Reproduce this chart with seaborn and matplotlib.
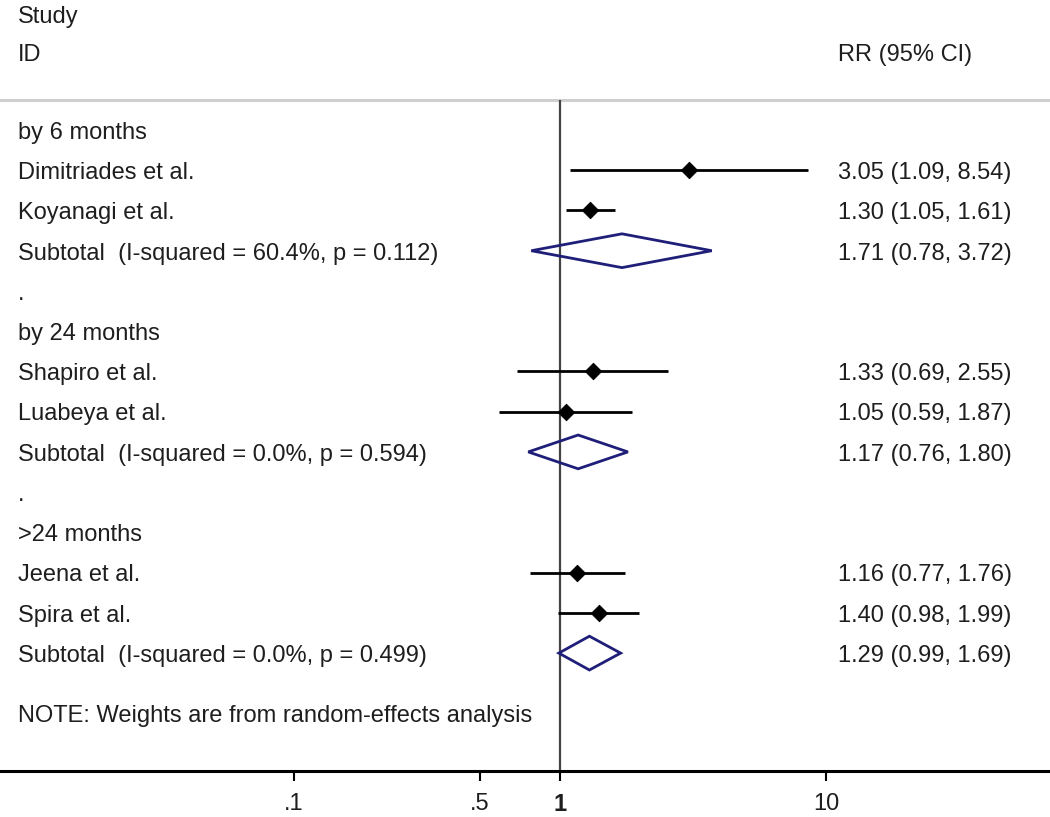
import numpy as np
import pandas as pd
import seaborn as sns
import matplotlib.pyplot as plt
from matplotlib.patches import Polygon

# forest plot data
groups = ["by 6 months", "by 24 months", ">24 months"]
studies = ["Dimitriades et al.", "Koyanagi et al.",
           "Shapiro et al.", "Luabeya et al.",
           "Jeena et al.", "Spira et al."]
study_group = [0, 0, 1, 1, 2, 2]
rr = [3.05, 1.30, 1.33, 1.05, 1.16, 1.40]
lo = [1.09, 1.05, 0.69, 0.59, 0.77, 0.98]
hi = [8.54, 1.61, 2.55, 1.87, 1.76, 1.99]
sub_label = ["Subtotal  (I-squared = 60.4%, p = 0.112)",
             "Subtotal  (I-squared = 0.0%, p = 0.594)",
             "Subtotal  (I-squared = 0.0%, p = 0.499)"]
sub_rr = [1.71, 1.17, 1.29]
sub_lo = [0.78, 0.76, 0.99]
sub_hi = [3.72, 1.80, 1.69]
ticks = [0.1, 0.5, 1, 10]
tick_labels = [".1", ".5", "1", "10"]

sns.set_theme(style="white")
plt.rcParams['font.family'] = ['Liberation Sans', 'DejaVu Sans']

# row layout: each group = header, 2 studies, subtotal, spacer "."
rows = []
for g in range(3):
    base = g * 5
    rows.append(("head", base, groups[g]))
    k = 1
    for i, s in enumerate(studies):
        if study_group[i] == g:
            rows.append(("study", base + k, i))
            k += 1
    rows.append(("sub", base + 3, g))
    if g < 2:
        rows.append(("dot", base + 4, "."))

df = pd.DataFrame({"study": studies, "rr": rr, "lo": lo, "hi": hi})
df["row"] = [r[1] for r in rows if r[0] == "study"]

fig = plt.figure(figsize=(10.5, 8.17), dpi=100)
ax = fig.add_axes([0, 46 / 817, 1, 771 / 817])
ax.set_xscale("log")
ax.set_xlim(10 ** (-560 / 266), 10 ** (490 / 266))
ax.set_ylim(15.93, -3.231)

txt = "#1e1e1e"
fs = 17
dy = 0.07  # nudge text down a little
tx = ax.get_yaxis_transform()


def label(x, r, s):
    ax.text(x / 1050, r + dy, s, transform=tx, va="center", fontsize=fs, color=txt)


# reference line at 1 and header rule
ax.axhline(-0.746, color="#cfcfcf", lw=2.2, zorder=1)
ax.vlines(1, -0.746, 15.93, color="#444444", lw=1.6, zorder=2)

# CIs and point estimates
ax.hlines(df["row"], df["lo"], df["hi"], color="black", lw=2, zorder=3)
sns.scatterplot(data=df, x="rr", y="row", marker="D", color="black",
                s=70, edgecolor="black", ax=ax, zorder=4, legend=False)

for kind, r, v in rows:
    if kind == "head" or kind == "dot":
        label(18, r, v)
    elif kind == "study":
        label(18, r, studies[v])
        label(838, r, f"{rr[v]:.2f} ({lo[v]:.2f}, {hi[v]:.2f})")
    else:
        label(18, r, sub_label[v])
        label(838, r, f"{sub_rr[v]:.2f} ({sub_lo[v]:.2f}, {sub_hi[v]:.2f})")
        h = 0.42
        poly = Polygon([(sub_lo[v], r), (sub_rr[v], r - h), (sub_hi[v], r), (sub_rr[v], r + h)],
                       closed=True, fill=False, edgecolor="#1f1f7a", lw=2, zorder=3)
        ax.add_patch(poly)

label(18, -2.88, "Study")
label(18, -1.94, "ID")
label(838, -1.94, "RR (95% CI)")
label(18, 14.49, "NOTE: Weights are from random-effects analysis")

# axis styling
for side in ["top", "left", "right"]:
    ax.spines[side].set_visible(False)
ax.spines["bottom"].set_color("black")
ax.spines["bottom"].set_linewidth(2.2)
ax.set_yticks([])
ax.set_xticks(ticks)
ax.set_xticklabels(tick_labels)
ax.minorticks_off()
ax.tick_params(axis="x", bottom=True, length=7, width=1.5, color="black",
               labelsize=fs, labelcolor=txt, pad=9)
for lab in ax.get_xticklabels():
    if lab.get_text() == "1":
        lab.set_fontweight("bold")
ax.set_xlabel("")
ax.set_ylabel("")

fig.savefig("out.png", dpi=100)
